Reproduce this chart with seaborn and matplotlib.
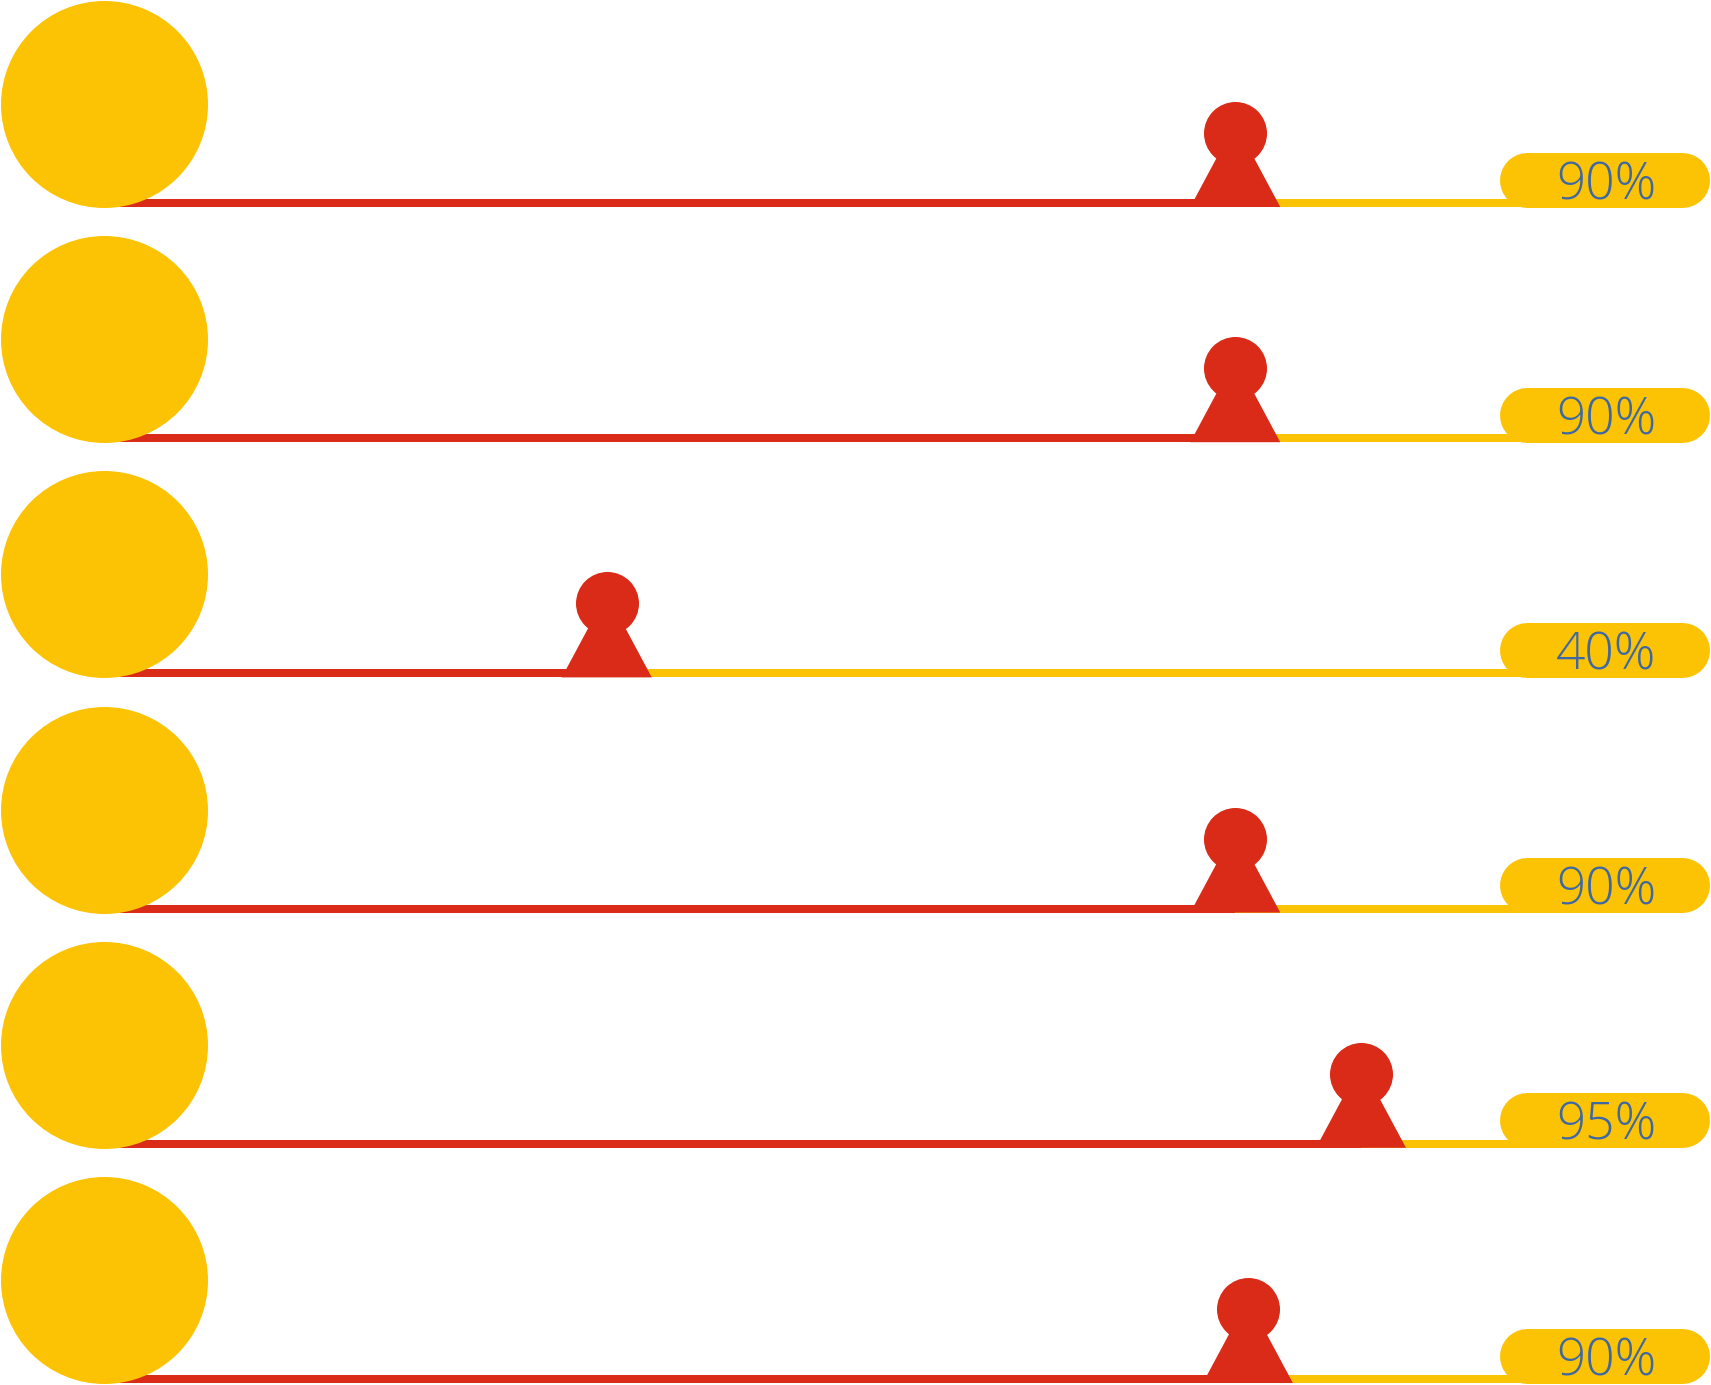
import matplotlib
matplotlib.use("Agg")
import matplotlib.pyplot as plt
from matplotlib.patches import Polygon
import seaborn as sns
import pandas as pd

# values
labels = ["90%", "90%", "40%", "90%", "95%", "90%"]
marker_pos = [90, 90, 40, 90, 100, 91]   # pawn position along the 0-100 track
rows = list(range(len(labels)))

YELLOW = "#FCC305"
RED = "#D92B17"
TEXT = "#3D68A3"

W, H = 1711, 1385
PX = 1 / 12.57          # data units per pixel (x axis runs 0-100 %)
PT = 0.72               # points per pixel at dpi 100

df = pd.DataFrame({"row": rows, "pos": marker_pos, "label": labels})
df["y"] = (203 + 235.2 * df["row"]) * PX          # track line of each row
df["circle_y"] = df["y"] - 99 * PX
df["head_y"] = df["y"] - 70 * PX
df["zero"] = 0.0

sns.set_style("white")
plt.rcParams["font.family"] = ["Open Sans", "DejaVu Sans"]

fig = plt.figure(figsize=(W / 100, H / 100), dpi=100)
ax = fig.add_axes([0, 0, 1, 1])

# track lines: red up to the pawn, yellow after it
track_end = (1560 - 104) * PX
ax.hlines(df["y"], 0, df["pos"], color=RED, lw=8 * PT, zorder=1)
ax.hlines(df["y"], df["pos"], track_end, color=YELLOW, lw=8 * PT, zorder=1)

# label pills
pill = ax.hlines(df["y"] - 23.5 * PX, (1527.5 - 104) * PX, (1682.5 - 104) * PX,
                 color=YELLOW, lw=55 * PT, zorder=2)
pill.set_capstyle("round")

# big circles on the left
sns.scatterplot(data=df, x="zero", y="circle_y", s=(207 * PT) ** 2,
                color=YELLOW, linewidth=0, ax=ax, zorder=3, legend=False)

# pawn bodies and heads
for _, r in df.iterrows():
    tri = Polygon([(r["pos"], r["y"] - 80 * PX),
                   (r["pos"] - 45 * PX, r["y"] + 4 * PX),
                   (r["pos"] + 45 * PX, r["y"] + 4 * PX)],
                  closed=True, facecolor=RED, edgecolor="none", zorder=4)
    ax.add_patch(tri)
sns.scatterplot(data=df, x="pos", y="head_y", s=(63 * PT) ** 2,
                color=RED, linewidth=0, ax=ax, zorder=5, legend=False)

for _, r in df.iterrows():
    ax.text((1606 - 104) * PX, r["y"] - 4 * PX, r["label"], ha="center",
            va="baseline", fontsize=37, fontweight=300, color=TEXT, zorder=6)

ax.set_xlim(-104 * PX, (W - 104) * PX)
ax.set_ylim(H * PX, 0)
ax.axis("off")

fig.savefig("out.png", dpi=100)
